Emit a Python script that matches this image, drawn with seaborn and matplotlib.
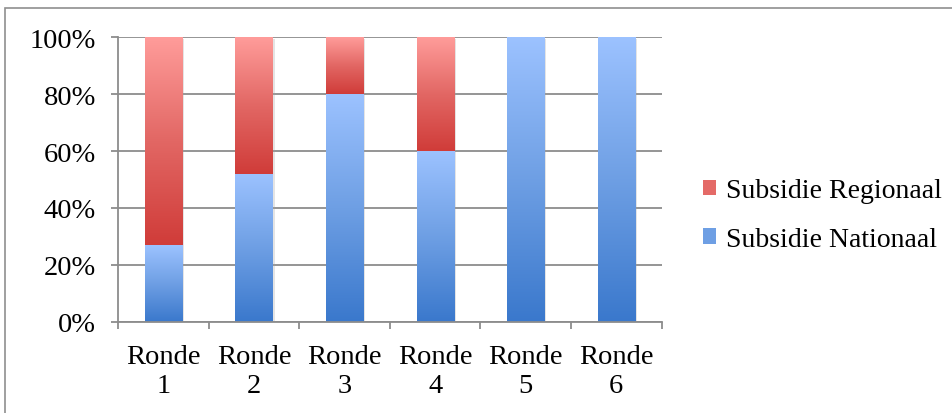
import numpy as np
import pandas as pd
import matplotlib
matplotlib.use("Agg")
import matplotlib.pyplot as plt
import matplotlib.transforms as mtransforms
import seaborn as sns
from matplotlib.colors import LinearSegmentedColormap
from matplotlib.patches import Rectangle, Patch

# Share of subsidy per round (percent)
rondes = ["Ronde\n1", "Ronde\n2", "Ronde\n3", "Ronde\n4", "Ronde\n5", "Ronde\n6"]
nationaal = [27, 52, 80, 60, 100, 100]
regionaal = [73, 48, 20, 40, 0, 0]
y_ticks = [0, 20, 40, 60, 80, 100]
y_tick_labels = ["0%", "20%", "40%", "60%", "80%", "100%"]
series_names = ["Subsidie Regionaal", "Subsidie Nationaal"]

sns.set_theme(style="white")
plt.rcParams["font.family"] = ["Liberation Serif", "DejaVu Serif"]
plt.rcParams["text.color"] = "black"
plt.rcParams["xtick.labelcolor"] = "black"
plt.rcParams["ytick.labelcolor"] = "black"

FS = 20.5

blue_cmap = LinearSegmentedColormap.from_list("blue", ["#3a78cc", "#6e9fe4", "#9cc2ff"])
red_cmap = LinearSegmentedColormap.from_list("red", ["#d03c39", "#e26764", "#ff9c9a"])

fig = plt.figure(figsize=(9.52, 4.14), dpi=100)
ax = fig.add_axes([0.124, 0.22, 0.571, 0.688])

df = pd.DataFrame({
    "ronde": rondes,
    "nationaal": nationaal,
    "totaal": [n + r for n, r in zip(nationaal, regionaal)],
})

sns.barplot(data=df, x="ronde", y="totaal", color="#e06060", width=0.41,
            ax=ax, zorder=3)
sns.barplot(data=df, x="ronde", y="nationaal", color="#6e9fe4", width=0.41,
            ax=ax, zorder=3)

total_bars = ax.patches[:len(rondes)]
nat_bars = ax.patches[len(rondes):2 * len(rondes)]

grad = np.linspace(0, 1, 256).reshape(-1, 1)
shadow_tf = mtransforms.offset_copy(ax.transData, fig=fig, x=2.0, y=-1.5, units="dots")

for tot, nat in zip(total_bars, nat_bars):
    x0 = tot.get_x()
    w = tot.get_width()
    top = tot.get_height()
    mid = nat.get_height()
    tot.set_visible(False)
    nat.set_visible(False)
    # soft drop shadow
    ax.add_patch(Rectangle((x0, 0), w, top, transform=shadow_tf,
                           facecolor="#a0a0a0", alpha=0.28, edgecolor="none",
                           zorder=2.5))
    if mid > 0:
        ax.imshow(grad, cmap=blue_cmap, origin="lower", aspect="auto",
                  extent=[x0, x0 + w, 0, mid], zorder=4, interpolation="bilinear")
    if top - mid > 0:
        ax.imshow(grad, cmap=red_cmap, origin="lower", aspect="auto",
                  extent=[x0, x0 + w, mid, top], zorder=4, interpolation="bilinear")

ax.set_xlim(-0.5, len(rondes) - 0.5)
ax.set_ylim(0, 100)

grid_color = "#8c8c8c"
ax.set_yticks(y_ticks)
ax.set_yticklabels(y_tick_labels)
ax.yaxis.grid(True, color=grid_color, linewidth=1.3, zorder=1)
ax.set_axisbelow(True)

ax.set_xticks(range(len(rondes)))
ax.set_xticklabels(rondes, linespacing=1.2)
ax.set_xticks(np.arange(-0.5, len(rondes), 1.0), minor=True)
ax.tick_params(axis="x", which="major", length=0, pad=16, labelsize=FS,
               labelcolor="black")
ax.tick_params(axis="x", which="minor", length=5, width=1.3, color=grid_color,
               direction="out", bottom=True)
ax.tick_params(axis="y", length=5, width=1.3, color=grid_color, pad=11,
               labelsize=FS, labelcolor="black", left=True)
ax.set_xlabel("")
ax.set_ylabel("")

for side in ["top", "right"]:
    ax.spines[side].set_visible(False)
for side in ["left", "bottom"]:
    ax.spines[side].set_color(grid_color)
    ax.spines[side].set_linewidth(1.3)
    ax.spines[side].set_zorder(5)

handles = [Patch(facecolor="#e46a67", edgecolor="none"),
           Patch(facecolor="#6e9fe4", edgecolor="none")]
fig.legend(handles, series_names, loc="center left", bbox_to_anchor=(0.738, 0.478),
           frameon=False, fontsize=20, handlelength=0.5, handleheight=0.5,
           handletextpad=0.35, labelspacing=0.85, borderaxespad=0, borderpad=0,
           labelcolor="black")

# outer chart frame
fig.patches.append(Rectangle((5 / 952, -0.1), 1.2, 0.1 + 1 - 9 / 414,
                             transform=fig.transFigure, fill=False,
                             edgecolor="#8f8f8f", linewidth=1.2))

fig.savefig("out.png", dpi=100, facecolor="white")
